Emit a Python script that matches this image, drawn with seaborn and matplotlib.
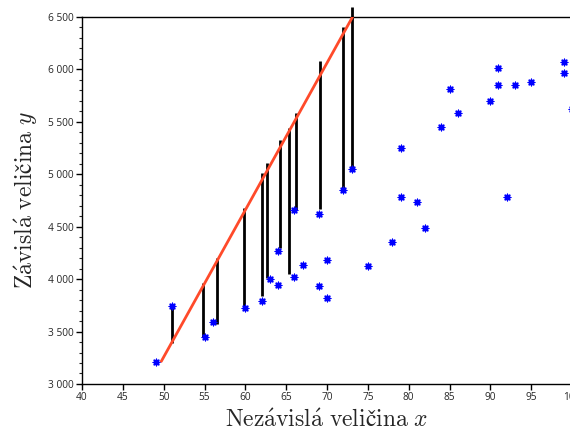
import seaborn as sns
import matplotlib
matplotlib.use('Agg')
import matplotlib.pyplot as plt
from matplotlib.ticker import MultipleLocator, FuncFormatter

# measured data points
x_vals = [49, 51, 55, 56, 60, 62, 63, 64, 64, 66, 66, 67, 69, 69, 70, 70, 72, 73,
          75, 78, 79, 79, 81, 82, 84, 85, 86, 90, 91, 91, 92, 93, 95, 99, 99, 100]
y_vals = [3210, 3745, 3450, 3590, 3720, 3790, 4005, 4270, 3945, 4015, 4660, 4135,
          4620, 3935, 4180, 3815, 4850, 5045, 4120, 4355, 5250, 4780, 4730, 4485,
          5445, 5810, 5585, 5700, 6010, 5850, 4780, 5850, 5875, 6070, 5965, 5620]

# red line
fit_x = [49.7, 73.5]
fit_y = [3215, 6550]

# residual segments
seg_x = [51.0, 54.85, 56.5, 59.8, 62.1, 62.6, 64.25, 65.4, 66.26, 69.17, 72.0, 73.0]
seg_lo = [3390, 3446, 3570, 3738, 3843, 4008, 4295, 4047, 4660, 4670, 4825, 5042]
seg_hi = [3745, 3961, 4199, 4673, 5010, 5105, 5327, 5443, 5580, 6075, 6400, 6588]

sns.set_style('ticks')
plt.rcParams['font.family'] = ['Open Sans', 'DejaVu Sans']
plt.rcParams['mathtext.fontset'] = 'cm'
plt.rcParams['mathtext.fallback'] = 'stix'

fig = plt.figure(figsize=(5.7, 4.37), dpi=100)
ax = fig.add_axes([0.1439, 0.1213, 0.8596, 0.8405])

ax.vlines(seg_x, seg_lo, seg_hi, colors='black', linewidth=2, clip_on=False, zorder=2)
sns.lineplot(x=fit_x, y=fit_y, color='#ff4a2a', linewidth=2, ax=ax, zorder=3)
sns.scatterplot(x=x_vals, y=y_vals, marker=(8, 2, 0), color='#0000ff', s=22,
                linewidth=1.0, edgecolor='#0000ff', ax=ax, zorder=4, clip_on=False)

ax.set_xlim(40, 100)
ax.set_ylim(3000, 6500)
ax.xaxis.set_major_locator(MultipleLocator(5))
ax.yaxis.set_major_locator(MultipleLocator(500))
ax.yaxis.set_minor_locator(MultipleLocator(100))
ax.yaxis.set_major_formatter(FuncFormatter(lambda v, p: f"{v:,.0f}".replace(",", " ")))

ax.tick_params(axis='both', which='major', direction='out', length=4, width=1,
               labelsize=7.3, color='black', pad=2)
ax.tick_params(axis='y', which='minor', direction='out', length=2.5, width=0.8)
for s in ax.spines.values():
    s.set_color('black')
    s.set_linewidth(1)

ax.set_xlabel(r'$\mathrm{Nez\acute{a}visl\acute{a}\ veličina}\ x$', fontsize=17, labelpad=4)
ax.set_ylabel(r'$\mathrm{Z\acute{a}visl\acute{a}\ veličina}\ y$', fontsize=17, labelpad=6)

fig.savefig('out.png', dpi=100)
